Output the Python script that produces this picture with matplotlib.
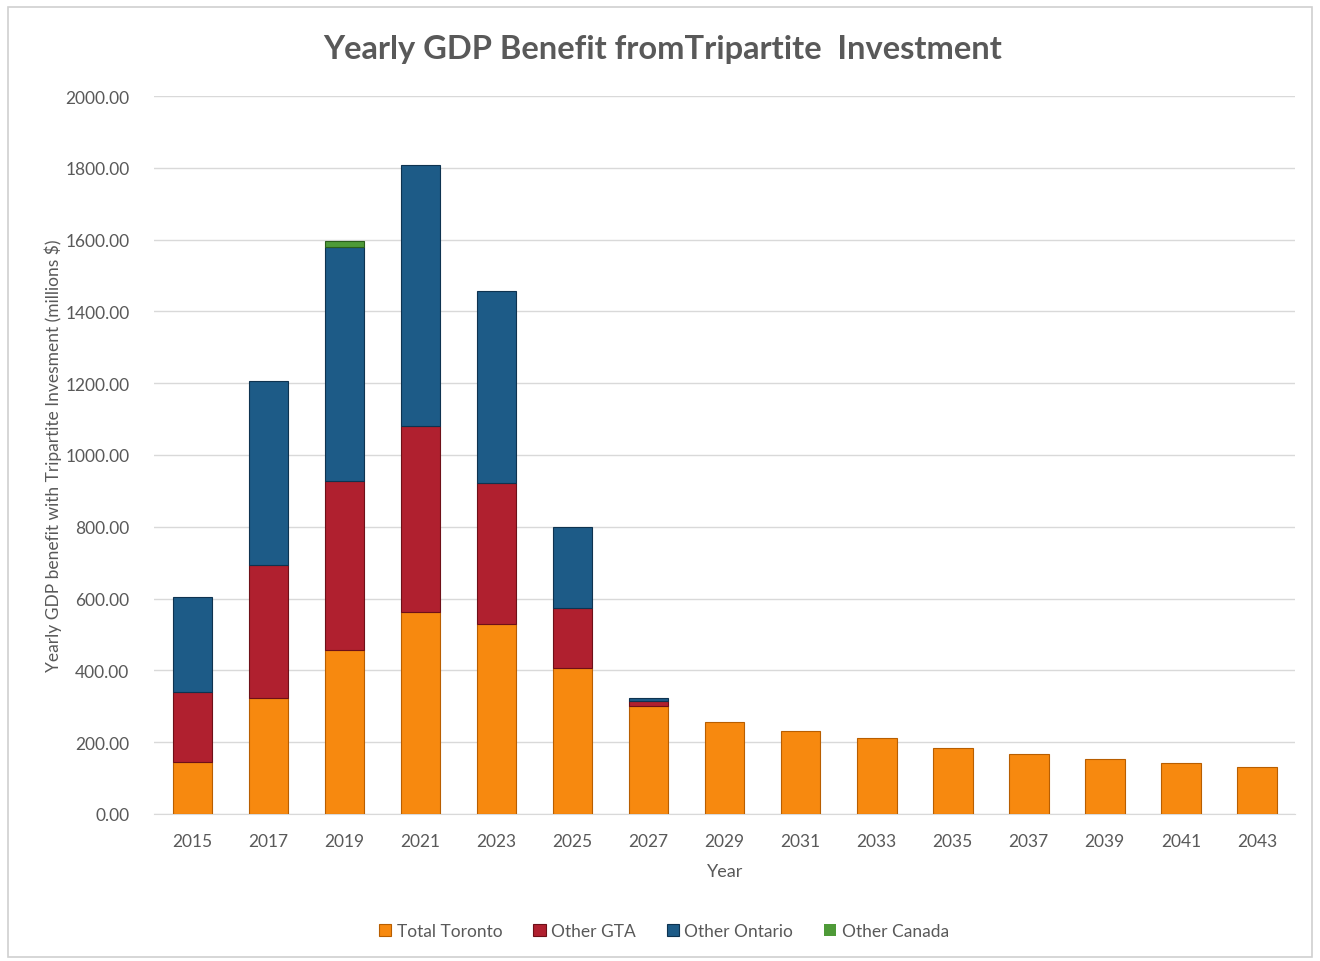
import numpy as np
import matplotlib.pyplot as plt
from matplotlib.patches import Rectangle

years = ['2015', '2017', '2019', '2021', '2023', '2025', '2027', '2029',
         '2031', '2033', '2035', '2037', '2039', '2041', '2043']
toronto = [145, 322, 456, 562, 528, 407, 300, 255, 230, 212, 184, 166, 153, 142, 130]
other_gta = [194, 372, 472, 520, 393, 167, 14, 0, 0, 0, 0, 0, 0, 0, 0]
other_ontario = [266, 511, 652, 726, 535, 225, 9, 0, 0, 0, 0, 0, 0, 0, 0]
other_canada = [0, 0, 17, 0, 0, 0, 0, 0, 0, 0, 0, 0, 0, 0, 0]

series = [('Total Toronto', toronto, '#F7890F', '#B85E00'),
          ('Other GTA', other_gta, '#B0202F', '#6E1018'),
          ('Other Ontario', other_ontario, '#1D5B87', '#0E3350'),
          ('Other Canada', other_canada, '#4E9A38', '#2A5E1C')]

plt.rcParams['font.family'] = ['Lato', 'DejaVu Sans']

fig = plt.figure(figsize=(13.2, 9.62), dpi=100)
fig.patches.append(Rectangle((0.006, 0.004), 0.988, 0.988, transform=fig.transFigure,
                             fill=False, edgecolor='#D0D0D0', linewidth=1.2))
ax = fig.add_axes([0.117, 0.153, 0.864, 0.746])

x = np.arange(len(years))
bottom = np.zeros(len(years))
for name, vals, col, edge in series:
    vals = np.array(vals, dtype=float)
    # no outline on empty segments
    lw = [0.8 if v > 0 else 0 for v in vals]
    ax.bar(x, vals, 0.52, bottom=bottom, color=col, edgecolor=edge,
           linewidth=lw, label=name, zorder=3)
    bottom += vals

ax.set_xlim(-0.5, len(years) - 0.5)
ax.set_ylim(0, 2000)
ax.set_yticks(np.arange(0, 2001, 200))
ax.set_yticklabels([f'{v:.2f}' for v in np.arange(0, 2001, 200)])
ax.set_xticks(x)
ax.set_xticklabels(years)
ax.tick_params(axis='x', length=0, labelsize=12.5, colors='#595959', pad=14)
ax.tick_params(axis='y', length=0, labelsize=12.5, colors='#595959', pad=18)
ax.grid(axis='y', color='#D9D9D9', linewidth=1, zorder=0)
for s in ['top', 'right', 'left']:
    ax.spines[s].set_visible(False)
ax.spines['bottom'].set_color('#D9D9D9')

ax.set_xlabel('Year', fontsize=13, color='#595959', labelpad=10)
ax.set_ylabel('Yearly GDP benefit with Tripartite Invesment (millions $)',
              fontsize=12.5, color='#595959', labelpad=2)
fig.text(0.502, 0.949, 'Yearly GDP Benefit fromTripartite  Investment',
         ha='center', va='center', fontsize=23.5, fontweight='bold', color='#595959')

fig.legend(loc='center', bbox_to_anchor=(0.503, 0.031), ncol=4, frameon=False,
           fontsize=12.5, labelcolor='#595959', handlelength=0.7, handleheight=0.7,
           handletextpad=0.3, columnspacing=1.8)

fig.savefig('out.png', dpi=100)
